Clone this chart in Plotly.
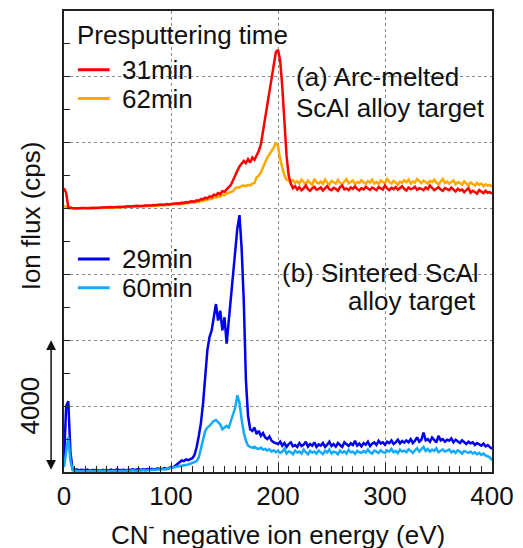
import plotly.graph_objects as go

# Energy axis (eV)
energy = [
    0, 2, 4, 6, 8, 10, 12, 14, 16, 18,
    20, 22, 24, 26, 28, 30, 32, 34, 36, 38,
    40, 42, 44, 46, 48, 50, 52, 54, 56, 58,
    60, 62, 64, 66, 68, 70, 72, 74, 76, 78,
    80, 82, 84, 86, 88, 90, 92, 94, 96, 98,
    100, 102, 104, 106, 108, 110, 112, 114, 116, 118,
    120, 122, 124, 126, 128, 130, 132, 134, 136, 138,
    140, 142, 144, 146, 148, 150, 152, 154, 156, 158,
    160, 162, 164, 166, 168, 170, 172, 174, 176, 178,
    180, 182, 184, 186, 188, 190, 192, 194, 196, 198,
    200, 202, 204, 206, 208, 210, 212, 214, 216, 218,
    220, 222, 224, 226, 228, 230, 232, 234, 236, 238,
    240, 242, 244, 246, 248, 250, 252, 254, 256, 258,
    260, 262, 264, 266, 268, 270, 272, 274, 276, 278,
    280, 282, 284, 286, 288, 290, 292, 294, 296, 298,
    300, 302, 304, 306, 308, 310, 312, 314, 316, 318,
    320, 322, 324, 326, 328, 330, 332, 334, 336, 338,
    340, 342, 344, 346, 348, 350, 352, 354, 356, 358,
    360, 362, 364, 366, 368, 370, 372, 374, 376, 378,
    380, 382, 384, 386, 388, 390, 392, 394, 396, 398,
    400,
]

# (a) Arc-melted ScAl alloy target (cps, before vertical offset)
arc_31min = [
    620, 480, 40, 20, 15, 10, 20, 10, 15, 5,
    15, 10, 20, 15, 25, 20, 30, 25, 35, 30,
    40, 35, 45, 40, 50, 45, 55, 50, 60, 55,
    70, 60, 75, 70, 85, 75, 90, 85, 95, 90,
    105, 95, 110, 100, 115, 110, 125, 115, 135, 125,
    140, 150, 140, 165, 155, 180, 170, 195, 185, 215,
    220, 210, 250, 240, 290, 280, 330, 310, 370, 350,
    420, 400, 470, 440, 530, 510, 580, 640, 720, 860,
    1030, 1150, 1280, 1350, 1450, 1380, 1500, 1400, 1550, 1480,
    1600, 1750, 1950, 2350, 2800, 3200, 3650, 4050, 4400, 4750,
    4820, 4500, 3700, 2700, 1600, 1000, 750, 620, 680, 580,
    650, 560, 610, 700, 590, 540, 620, 660, 570, 600,
    640, 550, 610, 680, 590, 560, 630, 600, 540, 650,
    700, 580, 610, 560, 640, 600, 670, 590, 550, 620,
    580, 660, 610, 570, 640, 600, 560, 650, 620, 580,
    700, 610, 560, 630, 590, 650, 570, 620, 680, 600,
    550, 640, 590, 610, 660, 570, 620, 600, 560, 640,
    590, 700, 620, 560, 600, 650, 580, 540, 620, 600,
    560, 640, 580, 520, 600, 550, 580, 500, 560, 620,
    480, 540, 500, 450, 560, 520, 470, 540, 480, 500,
    450,
]
arc_62min = [
    80, 40, 10, 5, 10, 0, 10, 5, 10, 0,
    10, 5, 15, 10, 20, 15, 25, 15, 25, 20,
    30, 25, 35, 30, 40, 35, 45, 40, 50, 45,
    55, 50, 60, 55, 65, 60, 70, 65, 80, 70,
    85, 80, 95, 85, 100, 95, 110, 100, 115, 110,
    120, 130, 125, 140, 135, 150, 145, 165, 160, 180,
    190, 185, 210, 200, 240, 230, 270, 260, 300, 290,
    340, 330, 380, 360, 420, 410, 460, 480, 500, 530,
    620, 650, 640, 690, 700, 680, 720, 700, 760, 780,
    950, 1000, 1100, 1250, 1450, 1550, 1650, 1750, 1850, 2000,
    1900, 1500, 1200, 1000, 880, 850, 820, 860, 780, 830,
    760, 880, 800, 740, 850, 780, 720, 900, 800, 760,
    820, 750, 880, 790, 730, 840, 800, 760, 870, 780,
    740, 820, 900, 770, 800, 850, 740, 810, 780, 860,
    800, 750, 830, 790, 880, 760, 810, 740, 850, 800,
    770, 900, 810, 760, 840, 790, 730, 820, 780, 860,
    800, 880, 760, 820, 790, 900, 830, 770, 850, 810,
    760, 840, 800, 880, 790, 740, 830, 900, 780, 820,
    760, 810, 850, 740, 800, 780, 720, 830, 760, 700,
    790, 740, 700, 780, 720, 760, 680, 740, 700, 720,
    660,
]

# (b) Sintered ScAl alloy target (cps)
sin_29min = [
    300, 2000, 2150, 600, 90, 60, 80, 50, 70, 60,
    50, 70, 40, 60, 50, 70, 60, 40, 60, 50,
    60, 50, 70, 40, 60, 80, 50, 60, 70, 50,
    70, 60, 80, 60, 70, 90, 60, 80, 70, 90,
    80, 100, 70, 90, 110, 80, 100, 120, 90, 130,
    150, 140, 190, 230, 280, 350, 330, 380, 360, 400,
    420, 520, 760, 1100, 1500, 2100, 2870, 3700, 4100, 4300,
    4700, 5100, 4600, 4900, 4300, 4700, 3900, 4600, 5200, 6000,
    6700, 7400, 7800, 6800, 5200, 2800, 1700, 1300, 1250, 1350,
    1150, 1250, 1100, 1180, 1050, 1000, 1080, 950, 900, 870,
    850, 920, 800, 880, 760, 850, 900, 780, 820, 760,
    880, 790, 830, 920, 770, 850, 800, 900, 760, 840,
    800, 880, 760, 830, 920, 790, 850, 770, 880, 820,
    760, 900, 830, 790, 870, 820, 950, 800, 860, 780,
    880, 830, 920, 790, 860, 900, 820, 950, 870, 900,
    830, 920, 880, 960, 850, 900, 980, 870, 940, 890,
    960, 900, 1000, 880, 950, 1050, 920, 980, 1200, 960,
    1000, 920, 1050, 980, 900, 1100, 960, 1000, 920, 980,
    950, 1020, 900, 980, 930, 880, 960, 900, 850, 920,
    870, 900, 820, 880, 850, 800, 860, 780, 820, 760,
    700,
]
sin_60min = [
    150, 700, 1060, 350, 50, 30, 40, 20, 30, 40,
    30, 20, 40, 30, 20, 40, 30, 20, 30, 40,
    30, 40, 20, 30, 40, 30, 20, 40, 30, 40,
    40, 30, 50, 40, 30, 50, 40, 60, 40, 50,
    60, 50, 70, 60, 80, 70, 90, 80, 100, 110,
    130, 140, 150, 160, 170, 190, 200, 220, 230, 250,
    270, 300, 330, 450, 750, 1050, 1250, 1350, 1400, 1480,
    1550, 1580, 1500, 1450, 1300, 1350, 1400, 1350, 1550, 1800,
    1950, 2330, 2100, 1600, 1200, 950, 800, 760, 740, 770,
    720, 700, 740, 680, 700, 650, 690, 620, 660, 600,
    650, 580, 620, 700, 560, 630, 600, 540, 650, 590,
    620, 560, 680, 600, 540, 640, 590, 620, 560, 650,
    600, 540, 640, 590, 680, 560, 620, 600, 540, 650,
    590, 630, 560, 670, 600, 620, 550, 640, 600, 580,
    640, 590, 680, 600, 560, 650, 620, 580, 660, 600,
    580, 650, 620, 700, 600, 640, 570, 680, 620, 650,
    600, 690, 640, 580, 660, 720, 620, 680, 760, 640,
    700, 620, 680, 640, 720, 600, 660, 690, 620, 650,
    680, 600, 640, 580, 660, 620, 560, 640, 600, 580,
    620, 560, 600, 540, 580, 520, 560, 500, 480, 440,
    360,
]

OFFSET_A = 8000  # vertical offset of the (a) spectra

x_ticks = [0, 100, 200, 300, 400]
series_names = ["31min", "62min", "29min", "60min"]
series_colors = ["#FF0000", "#FFA800", "#0000F0", "#10AAFF"]

FONT = "Arial, Liberation Sans, Helvetica, sans-serif"
FS = 26
W, H = 523, 548
L, R, T, B = 64, 28, 9, 76

fig = go.Figure()
fig.add_trace(go.Scatter(x=energy, y=[v + OFFSET_A for v in arc_62min], mode="lines",
                         name=series_names[1], line=dict(color=series_colors[1], width=2.5)))
fig.add_trace(go.Scatter(x=energy, y=[v + OFFSET_A for v in arc_31min], mode="lines",
                         name=series_names[0], line=dict(color=series_colors[0], width=2.5)))
fig.add_trace(go.Scatter(x=energy, y=sin_29min, mode="lines",
                         name=series_names[2], line=dict(color=series_colors[2], width=2.5)))
fig.add_trace(go.Scatter(x=energy, y=sin_60min, mode="lines",
                         name=series_names[3], line=dict(color=series_colors[3], width=2.5)))

grid = dict(showgrid=True, gridcolor="#8a8a8a", griddash="dot", gridwidth=1)

fig.update_xaxes(range=[0, 400], tickvals=x_ticks, ticktext=[str(v) for v in x_ticks],
                 ticks="inside", ticklen=9, tickwidth=1, tickcolor="#222",
                 minor=dict(dtick=10, ticks="inside", ticklen=6, tickcolor="#222", showgrid=False),
                 showline=True, linecolor="#222", linewidth=1.5, mirror=True,
                 zeroline=False, tickfont=dict(family=FONT, size=FS, color="#111"),
                 **grid)
fig.update_yaxes(range=[0, 14000], dtick=2000, showticklabels=False,
                 ticks="inside", ticklen=6, tickwidth=1, tickcolor="#222",
                 minor=dict(dtick=1000, ticks="inside", ticklen=6, tickcolor="#222", showgrid=False),
                 showline=True, linecolor="#222", linewidth=1.5, mirror=True,
                 zeroline=False, **grid)


def px_x(p):
    return (p - L) / (W - L - R)


def px_y(p):
    return (H - B - p) / (H - T - B)


def txt(text, xp, yp, anchor="left", angle=0, yanchor="middle"):
    return dict(text=text, x=px_x(xp), y=px_y(yp), xref="paper", yref="paper",
                showarrow=False, textangle=angle,
                font=dict(family=FONT, size=FS, color="#111"),
                xanchor=anchor, yanchor=yanchor)


annotations = [
    txt("CN<sup>-</sup> negative ion energy (eV)", 280, 552, "center", yanchor="bottom"),
    txt("Ion flux (cps)", 31, 215, "center", -90),
    txt("4000", 30, 405, "center", -90),
    txt("(a) Arc-melted", 296, 75),
    txt("ScAl alloy target", 296, 106),
    txt("(b) Sintered ScAl", 484, 272, "right"),
    txt("alloy target", 481, 300, "right"),
    # legend text
    txt("Presputtering time", 75, 33),
    txt(series_names[0], 120, 68),
    txt(series_names[1], 120, 97),
    txt(series_names[2], 120, 258),
    txt(series_names[3], 120, 287),
    # double-headed 4000 cps scale arrow
    dict(text="", x=px_x(51), y=4000, xref="paper", yref="y", ax=0, ay=131,
         axref="pixel", ayref="pixel",
         showarrow=True, arrowhead=2, arrowside="end+start", arrowsize=1.3, arrowwidth=1.5,
         arrowcolor="#111", standoff=0, startstandoff=0),
]

legend_rows = [(0, 68), (1, 97), (2, 258), (3, 287)]
shapes = [
    dict(type="line", xref="paper", yref="paper", x0=px_x(78), x1=px_x(110),
         y0=px_y(yp), y1=px_y(yp), line=dict(color=series_colors[i], width=3))
    for i, yp in legend_rows
]

fig.update_layout(
    width=W, height=H, margin=dict(l=L, r=R, t=T, b=B),
    paper_bgcolor="white", plot_bgcolor="white",
    font=dict(family=FONT, size=FS, color="#111"),
    showlegend=False,
    annotations=annotations,
    shapes=shapes,
)

fig.write_html("out.html", config={"displayModeBar": False},
               post_script="document.body.style.margin='0';")
